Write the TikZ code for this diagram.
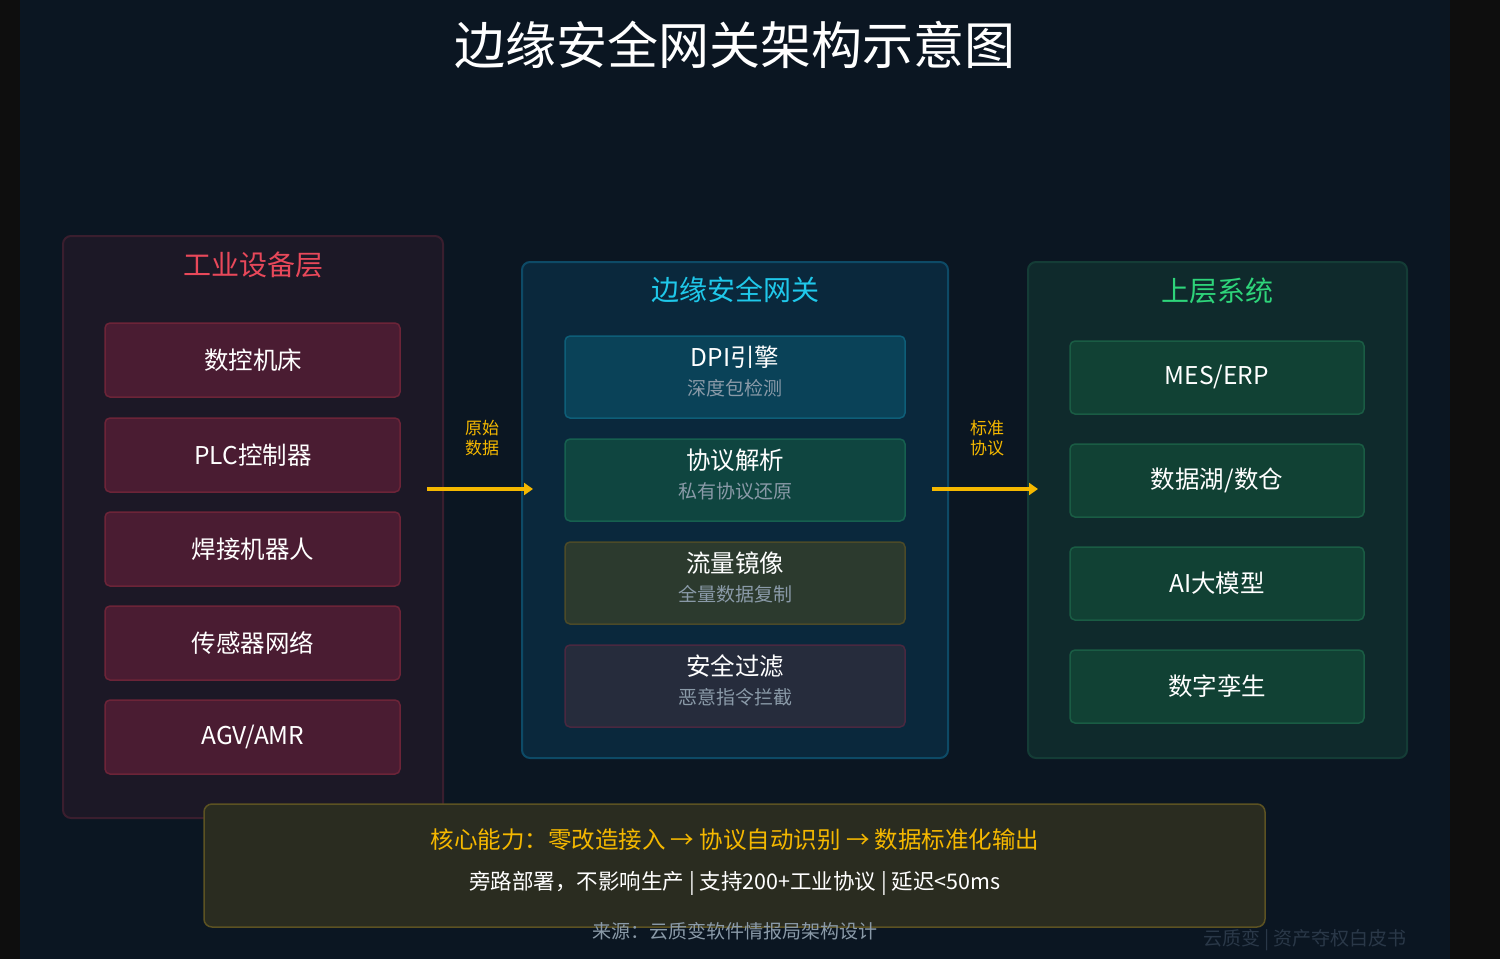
\documentclass[tikz,border=0pt]{standalone}
\usepackage{fontspec}
\setmainfont{Noto Sans CJK SC}
\usetikzlibrary{arrows.meta}
\definecolor{bgo}{HTML}{0E0E0E}
\definecolor{bg}{HTML}{0B1622}
\definecolor{redp}{HTML}{1C1826}\definecolor{redpb}{HTML}{3A1E2E}
\definecolor{redb}{HTML}{4A1C32}\definecolor{redbb}{HTML}{6C2438}
\definecolor{redt}{HTML}{E8485A}
\definecolor{midp}{HTML}{0A283C}\definecolor{midpb}{HTML}{0D4A66}
\definecolor{cyt}{HTML}{1FC8EA}
\definecolor{b1}{HTML}{0A4258}\definecolor{b1b}{HTML}{0E5E78}
\definecolor{b2}{HTML}{0F4540}\definecolor{b2b}{HTML}{16604F}
\definecolor{b3}{HTML}{2C3A2E}\definecolor{b3b}{HTML}{4C4A28}
\definecolor{b4}{HTML}{262C3C}\definecolor{b4b}{HTML}{4A2840}
\definecolor{rp}{HTML}{0F2A2C}\definecolor{rpb}{HTML}{143C36}
\definecolor{grt}{HTML}{2ED47A}
\definecolor{gb}{HTML}{114134}\definecolor{gbb}{HTML}{1A5C44}
\definecolor{yel}{HTML}{F5B800}
\definecolor{botf}{HTML}{2A2C20}\definecolor{botb}{HTML}{5C5222}
\definecolor{subt}{HTML}{8A9AA8}
\definecolor{wm}{HTML}{2A3848}
\begin{document}
\begin{tikzpicture}[x=1pt,y=-1pt,
 panel/.style={rounded corners=8pt,line width=2pt},
 box/.style={rounded corners=5pt,line width=1.5pt},
 lbl/.style={text=white,font=\fontsize{24.5}{26}\selectfont},
 sub/.style={text=subt,font=\fontsize{19}{21}\selectfont},
 ptitle/.style={font=\fontsize{28}{30}\selectfont},
 flow/.style={line width=3.5pt,yel,-{Triangle[length=9pt,width=12pt]}},
 side/.style={text=yel,font=\fontsize{17}{20}\selectfont,align=center}]
\fill[bgo] (0,0) rectangle (1500,959);
\fill[bg] (20,0) rectangle (1450,959);
\useasboundingbox (0,0) rectangle (1500,959);
\node[text=white,font=\fontsize{51}{55}\selectfont] (title) at (735,45) {边缘安全网关架构示意图};
% left
\draw[panel,fill=redp,draw=redpb] (63,236) rectangle (443,818);
\node[ptitle,text=redt] (lt) at (253,265) {工业设备层};
\foreach \y/\t/\n in {323/数控机床/l1,418/PLC控制器/l2,512/焊接机器人/l3,606/传感器网络/l4,700/{AGV/AMR}/l5}{
 \draw[box,fill=redb,draw=redbb] (105,\y) rectangle (400,\y+74);
 \node[lbl] (\n) at (253,\y+37) {\t};}
% middle
\draw[panel,fill=midp,draw=midpb] (522,262) rectangle (948,758);
\node[ptitle,text=cyt] (mt) at (735,290) {边缘安全网关};
\foreach \y/\t/\s/\f/\d/\n in {336/DPI引擎/深度包检测/b1/b1b/m1,439/协议解析/私有协议还原/b2/b2b/m2,542/流量镜像/全量数据复制/b3/b3b/m3,645/安全过滤/恶意指令拦截/b4/b4b/m4}{
 \draw[box,fill=\f,draw=\d] (565,\y) rectangle (905,\y+82);
 \node[lbl] (\n) at (735,\y+21) {\t};
 \node[sub] (\n s) at (735,\y+52) {\s};}
% right
\draw[panel,fill=rp,draw=rpb] (1028,262) rectangle (1407,758);
\node[ptitle,text=grt] (rt) at (1217,291) {上层系统};
\foreach \y/\t/\n in {341/{MES/ERP}/r1,444/{数据湖/数仓}/r2,547/AI大模型/r3,650/数字孪生/r4}{
 \draw[box,fill=gb,draw=gbb] (1070,\y) rectangle (1364,\y+73);
 \node[lbl] (\n) at (1217,\y+36) {\t};}
% arrows
\coordinate (a1) at (427,489); \coordinate (a2) at (533,489);
\coordinate (a3) at (932,489); \coordinate (a4) at (1038,489);
\draw[flow] (a1) -- (a2);
\draw[flow] (a3) -- (a4);
\node[side] (s1) at (482,438) {原始\\数据};
\node[side] (s2) at (987,438) {标准\\协议};
% bottom
\draw[box,rounded corners=8pt,fill=botf,draw=botb] (204,804) rectangle (1265,927);
\node[text=yel,font=\fontsize{23.5}{25}\selectfont] (c1) at (735,840) {核心能力：零改造接入 → 协议自动识别 → 数据标准化输出};
\node[text=white,font=\fontsize{21.5}{23}\selectfont] (c2) at (735,883) {旁路部署，不影响生产 | 支持200+工业协议 | 延迟<50ms};
\node[text=subt,font=\fontsize{19}{21}\selectfont] (src) at (735,931) {来源：云质变软件情报局架构设计};
\node[text=wm,font=\fontsize{19}{21}\selectfont] (wmk) at (1305,940) {云质变 | 资产夺权白皮书};
\end{tikzpicture}
\end{document}
